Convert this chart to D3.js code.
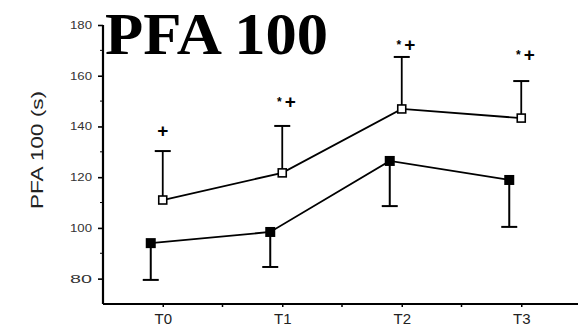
<!DOCTYPE html>
<html>
<head>
<meta charset="utf-8">
<script src="https://cdn.jsdelivr.net/npm/d3@7"></script>
<style>
  body { margin: 0; background: white; }
  text { font-family: "Liberation Sans", Arial, sans-serif; }
</style>
</head>
<body>
<div id="chart"></div>
<script>
const categories = ["T0", "T1", "T2", "T3"];
const openMean = [111, 121.7, 146.9, 143.3];
const openErrTop = [130.3, 140.2, 167.4, 157.9];
const filledMean = [94, 98.4, 126.4, 118.9];
const filledErrBottom = [79.5, 84.6, 108.6, 100.4];
const marks = ["+", "*+", "*+", "*+"];
const markValue = [138.6, 150.1, 172.6, 168.6];
const yTicks = [80, 100, 120, 140, 160, 180];
const yMinor = [90, 110, 130, 150, 170];

const width = 578, height = 328;

const svg = d3.select("#chart").append("svg")
  .attr("width", width)
  .attr("height", height)
  .style("background-color", "white");

const x = d3.scalePoint()
  .domain(categories)
  .range([103, 581])
  .padding(0.5);

const y = d3.scaleLinear()
  .domain([70, 180])
  .range([304, 25]);

const dodge = -12;
const step = x.step();

// Title
svg.append("text")
  .attr("x", 105)
  .attr("y", 54)
  .attr("textLength", 223)
  .attr("lengthAdjust", "spacingAndGlyphs")
  .style("font-family", "'Liberation Serif', 'Times New Roman', serif")
  .style("font-weight", "bold")
  .style("font-size", "60px")
  .text("PFA 100");

// Eixo Y
const yAxis = svg.append("g")
  .attr("transform", "translate(103,0)")
  .call(d3.axisLeft(y).tickValues(yTicks).tickSize(5).tickPadding(6));
yAxis.select(".domain").attr("stroke-width", 2.2).attr("d", `M0,${y(180)}V${y(70)}`);
yAxis.selectAll(".tick line").attr("stroke-width", 1.6);
yAxis.selectAll("text")
  .style("font-size", "11px")
  .attr("fill", "#333")
  .attr("textLength", 22)
  .attr("lengthAdjust", "spacingAndGlyphs");
yAxis.selectAll(".minor")
  .data(yMinor)
  .enter().append("line")
  .attr("x1", -3).attr("x2", 0)
  .attr("y1", d => y(d)).attr("y2", d => y(d))
  .attr("stroke", "black");

// Eixo X
const xAxis = svg.append("g")
  .attr("transform", `translate(0,${y(70)})`)
  .call(d3.axisBottom(x).tickSize(3).tickPadding(6));
xAxis.select(".domain").attr("stroke-width", 2.2).attr("d", `M103,0H578`);
xAxis.selectAll(".tick line").attr("stroke-width", 1.5);
xAxis.selectAll("text")
  .style("font-size", "15px")
  .attr("fill", "#222");
xAxis.selectAll(".minor")
  .data(categories.slice(0, 3))
  .enter().append("line")
  .attr("x1", d => x(d) + step / 2).attr("x2", d => x(d) + step / 2)
  .attr("y1", 0).attr("y2", 3)
  .attr("stroke", "black").attr("stroke-width", 1.5);

// Rótulo do eixo Y
svg.append("text")
  .attr("transform", "rotate(-90)")
  .attr("x", -150)
  .attr("y", 43)
  .attr("text-anchor", "middle")
  .attr("textLength", 118)
  .attr("lengthAdjust", "spacingAndGlyphs")
  .style("font-size", "16px")
  .attr("fill", "#222")
  .text("PFA 100 (s)");

const cap = 8;

// Barras de erro
categories.forEach((c, i) => {
  const xo = x(c);
  svg.append("line")
    .attr("x1", xo).attr("x2", xo)
    .attr("y1", y(openMean[i])).attr("y2", y(openErrTop[i]))
    .attr("stroke", "black").attr("stroke-width", 1.8);
  svg.append("line")
    .attr("x1", xo - cap).attr("x2", xo + cap)
    .attr("y1", y(openErrTop[i])).attr("y2", y(openErrTop[i]))
    .attr("stroke", "black").attr("stroke-width", 2);

  const xf = x(c) + dodge;
  svg.append("line")
    .attr("x1", xf).attr("x2", xf)
    .attr("y1", y(filledMean[i])).attr("y2", y(filledErrBottom[i]))
    .attr("stroke", "black").attr("stroke-width", 2);
  svg.append("line")
    .attr("x1", xf - cap).attr("x2", xf + cap)
    .attr("y1", y(filledErrBottom[i])).attr("y2", y(filledErrBottom[i]))
    .attr("stroke", "black").attr("stroke-width", 2);
});

// Linhas
const openLine = d3.line()
  .x((d, i) => x(categories[i]))
  .y(d => y(d));
const filledLine = d3.line()
  .x((d, i) => x(categories[i]) + dodge)
  .y(d => y(d));

svg.append("path")
  .attr("d", openLine(openMean))
  .attr("fill", "none").attr("stroke", "black").attr("stroke-width", 1.8);
svg.append("path")
  .attr("d", filledLine(filledMean))
  .attr("fill", "none").attr("stroke", "black").attr("stroke-width", 1.8);

// Marcadores
svg.selectAll(".open")
  .data(openMean)
  .enter().append("rect")
  .attr("class", "open")
  .attr("x", (d, i) => x(categories[i]) - 4)
  .attr("y", d => y(d) - 4)
  .attr("width", 8).attr("height", 8)
  .attr("fill", "white").attr("stroke", "black").attr("stroke-width", 1.6);

svg.selectAll(".filled")
  .data(filledMean)
  .enter().append("rect")
  .attr("class", "filled")
  .attr("x", (d, i) => x(categories[i]) + dodge - 5)
  .attr("y", d => y(d) - 5)
  .attr("width", 10).attr("height", 10)
  .attr("fill", "black");

// Significância
categories.forEach((c, i) => {
  const hasStar = marks[i].includes("*");
  const px = x(c) + (hasStar ? 8 : 0);
  const py = y(markValue[i]);
  svg.append("text")
    .attr("x", px).attr("y", py + 7)
    .attr("text-anchor", "middle")
    .style("font-size", "19px")
    .style("font-weight", "bold")
    .text("+");
  if (hasStar) {
    svg.append("text")
      .attr("x", px - 11).attr("y", py + 5)
      .attr("text-anchor", "middle")
      .style("font-size", "12px")
      .style("font-weight", "bold")
      .text("*");
  }
});
</script>
</body>
</html>
